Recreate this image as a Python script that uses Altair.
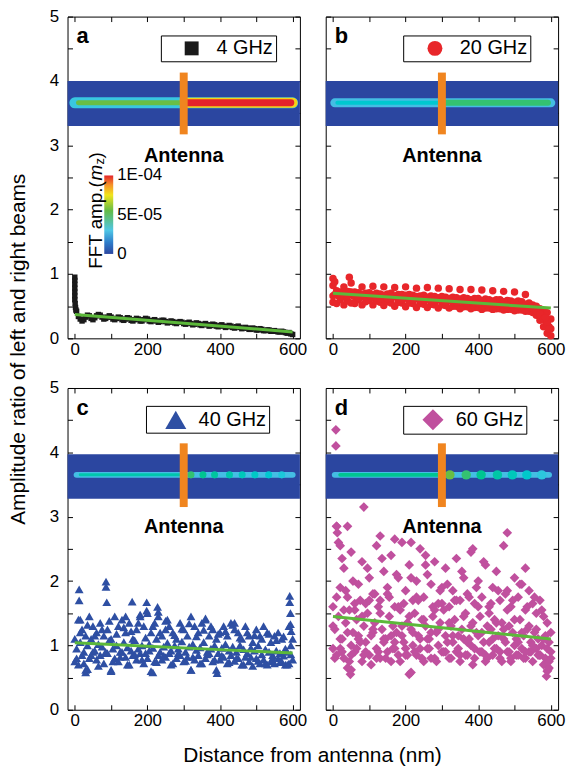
import altair as alt
import pandas as pd

FONT = "Liberation Sans"

# ---------------- sample positions along the stripe (nm) ----------------
X10 = list(range(0, 601, 10))       # 61 positions
X10_MID = list(range(5, 600, 10))   # 60 positions
X5 = list(range(5, 601, 5))         # 120 positions

# ---------------- (a) 4 GHz ----------------
A_X_NEAR = [0, 0, 0, 0, 0, 0, 0, 1, 2, 3]
A_Y_NEAR = [0.95, 0.90, 0.84, 0.78, 0.72, 0.66, 0.60, 0.54, 0.48, 0.44]
A_Y = [
    0.42, 0.34, 0.30, 0.27, 0.29, 0.33, 0.36, 0.35, 0.31, 0.29, 0.32, 0.35, 0.37, 0.36, 0.33, 0.30, 0.31, 0.33, 0.35, 0.33,
    0.30, 0.29, 0.31, 0.33, 0.32, 0.29, 0.28, 0.30, 0.32, 0.31, 0.28, 0.27, 0.29, 0.31, 0.30, 0.27, 0.27, 0.29, 0.31, 0.30,
    0.27, 0.26, 0.28, 0.29, 0.27, 0.25, 0.26, 0.28, 0.28, 0.26, 0.24, 0.25, 0.27, 0.26, 0.24, 0.23, 0.25, 0.26, 0.25, 0.23,
    0.22, 0.24, 0.25, 0.23, 0.21, 0.22, 0.24, 0.23, 0.21, 0.20, 0.22, 0.23, 0.21, 0.19, 0.20, 0.22, 0.21, 0.19, 0.18, 0.20,
    0.21, 0.19, 0.17, 0.18, 0.20, 0.19, 0.17, 0.16, 0.18, 0.19, 0.17, 0.15, 0.16, 0.17, 0.16, 0.14, 0.14, 0.16, 0.15, 0.13,
    0.13, 0.15, 0.14, 0.12, 0.12, 0.13, 0.13, 0.11, 0.11, 0.12, 0.11, 0.10, 0.10, 0.11, 0.10, 0.09, 0.08, 0.09, 0.07, 0.06,
]

# ---------------- (b) 20 GHz ----------------
B_HI = [
    0.82, 0.74, 0.72, 0.80, 0.73, 0.86, 0.72, 0.71, 0.80, 0.70,
    0.71, 0.81, 0.70, 0.69, 0.80, 0.69, 0.70, 0.79, 0.68, 0.68,
    0.80, 0.68, 0.67, 0.78, 0.66, 0.67, 0.79, 0.66, 0.65, 0.78,
    0.65, 0.64, 0.77, 0.64, 0.63, 0.76, 0.63, 0.62, 0.76, 0.62,
    0.62, 0.75, 0.61, 0.60, 0.74, 0.60, 0.60, 0.73, 0.59, 0.58,
    0.72, 0.58, 0.57, 0.68, 0.55, 0.52, 0.50, 0.46, 0.42, 0.40,
    0.30,
]
B_LO = [
    0.56, 0.54, 0.60, 0.52, 0.58, 0.55, 0.54, 0.60, 0.52, 0.57,
    0.59, 0.52, 0.58, 0.56, 0.51, 0.57, 0.55, 0.50, 0.56, 0.55,
    0.49, 0.55, 0.54, 0.48, 0.54, 0.53, 0.48, 0.53, 0.52, 0.47,
    0.52, 0.51, 0.47, 0.50, 0.50, 0.46, 0.49, 0.49, 0.46, 0.48,
    0.48, 0.45, 0.47, 0.47, 0.45, 0.46, 0.46, 0.44, 0.45, 0.45,
    0.43, 0.44, 0.44, 0.42, 0.42, 0.40, 0.36, 0.28, 0.18, 0.08,
    0.04,
]
B_MID = [
    0.68, 0.66, 0.70, 0.64, 0.72, 0.66, 0.63, 0.69, 0.65, 0.67,
    0.63, 0.68, 0.64, 0.62, 0.66, 0.61, 0.64, 0.66, 0.60, 0.62,
    0.64, 0.60, 0.61, 0.63, 0.58, 0.60, 0.62, 0.57, 0.59, 0.60,
    0.56, 0.58, 0.60, 0.55, 0.57, 0.58, 0.54, 0.55, 0.57, 0.53,
    0.54, 0.56, 0.52, 0.53, 0.55, 0.51, 0.52, 0.53, 0.50, 0.51,
    0.52, 0.49, 0.50, 0.50, 0.47, 0.44, 0.40, 0.35, 0.28, 0.18,
]
B_MID2 = [
    0.66, 0.70, 0.64, 0.68, 0.66, 0.72, 0.65, 0.63, 0.68, 0.64,
    0.66, 0.68, 0.63, 0.62, 0.67, 0.62, 0.63, 0.66, 0.61, 0.62,
    0.67, 0.60, 0.60, 0.65, 0.59, 0.60, 0.64, 0.58, 0.59, 0.63,
    0.58, 0.57, 0.62, 0.57, 0.56, 0.61, 0.56, 0.55, 0.60, 0.55,
    0.55, 0.59, 0.54, 0.54, 0.58, 0.53, 0.53, 0.57, 0.52, 0.52,
    0.56, 0.51, 0.51, 0.53, 0.49, 0.47, 0.43, 0.38, 0.30, 0.22,
    0.15,
]
B_X_EXTRA = [0, 45, 5, 590, 595, 585]
B_Y_EXTRA = [0.93, 0.95, 0.88, 0.25, 0.15, 0.32]

# ---------------- (c) 40 GHz ----------------
C_Y1 = [
    1.10, 1.40, 1.25, 1.15, 1.45, 1.30, 1.20, 1.35, 1.15, 1.25,
    1.10, 1.45, 1.30, 1.40, 1.20, 1.35, 1.10, 1.25, 1.45, 1.30,
    1.50, 1.20, 1.35, 1.45, 1.15, 1.25, 1.30, 1.20, 1.10, 1.35,
    1.25, 1.15, 1.45, 1.30, 1.20, 1.35, 1.40, 1.15, 1.25, 1.10,
    1.20, 1.30, 1.15, 1.35, 1.25, 1.20, 1.10, 1.30, 1.15, 1.05,
    1.25, 1.15, 1.30, 1.20, 1.05, 1.15, 1.20, 1.10, 0.95, 1.30,
    1.10,
]
C_Y2 = [
    0.75, 0.70, 0.85, 0.62, 0.80, 0.90, 0.78, 0.85, 0.72, 0.88,
    0.62, 0.80, 0.75, 0.90, 0.82, 0.70, 0.85, 0.78, 0.88, 0.72,
    0.80, 0.60, 0.75, 0.85, 0.78, 0.82, 0.88, 0.72, 0.80, 0.85,
    0.75, 0.82, 0.62, 0.78, 0.85, 0.72, 0.80, 0.88, 0.75, 0.62,
    0.78, 0.82, 0.72, 0.85, 0.76, 0.80, 0.70, 0.82, 0.75, 0.68,
    0.80, 0.72, 0.78, 0.70, 0.75, 0.72, 0.80, 0.75, 0.70, 0.72,
    0.78,
]
C_Y3 = [
    0.95, 1.05, 0.90, 1.00, 1.10, 0.92, 1.02, 0.98, 0.88, 1.08,
    0.95, 1.00, 0.90, 1.05, 0.97, 0.92, 1.08, 0.95, 1.00, 0.88,
    1.02, 0.96, 1.10, 0.90, 0.98, 1.04, 0.92, 1.00, 0.95, 1.06,
    0.90, 0.98, 1.02, 0.93, 0.97, 1.05, 0.90, 0.95, 1.00, 0.88,
    0.96, 1.02, 0.92, 0.98, 0.90, 1.00, 0.94, 0.88, 0.96, 0.92,
    1.00, 0.86, 0.94, 0.90, 0.85, 0.92, 0.88, 0.84, 0.90, 0.86,
]
C_Y4 = [
    0.80, 1.20, 0.72, 1.32, 0.85, 1.15, 0.68, 1.25, 0.90, 1.38,
    0.75, 1.18, 0.82, 1.28, 0.70, 1.22, 0.86, 1.35, 0.78, 1.12,
    0.92, 1.30, 0.74, 1.20, 0.84, 1.40, 0.70, 1.16, 0.88, 1.26,
    0.76, 1.34, 0.82, 1.14, 0.72, 1.24, 0.86, 1.30, 0.78, 1.18,
    0.84, 1.22, 0.74, 1.32, 0.80, 1.12, 0.70, 1.20, 0.82, 1.16,
    0.76, 1.10, 0.72, 1.18, 0.80, 1.08, 0.74, 1.14, 0.70, 1.00,
]
C_X_EXTRA = [12, 12, 15, 86, 86, 88, 158, 198, 198, 228, 230, 592, 592, 594, 594, 596,
             30, 35, 100, 215, 320, 392, 140, 180, 250, 360, 440]
C_Y_EXTRA = [1.87, 1.70, 1.40, 1.99, 1.91, 1.67, 1.68, 1.67, 1.54, 1.60, 1.52, 1.77, 1.67, 1.50, 1.33, 1.22,
             0.58, 0.63, 0.60, 0.58, 0.62, 0.57, 1.45, 1.48, 1.38, 1.42, 1.35]

# ---------------- (d) 60 GHz ----------------
D_Y1 = [
    1.60, 2.85, 1.90, 2.20, 1.75, 2.45, 1.55, 1.95, 2.30, 1.65,
    2.05, 1.80, 2.55, 1.70, 2.15, 1.90, 2.40, 1.60, 2.05, 2.60,
    1.85, 2.25, 1.70, 2.00, 2.50, 1.75, 2.10, 1.95, 2.30, 1.65,
    1.90, 2.20, 1.60, 1.85, 2.35, 1.70, 2.05, 1.80, 2.45, 1.65,
    2.00, 1.75, 2.25, 1.60, 1.90, 2.15, 1.70, 2.55, 1.85, 1.60,
    2.05, 1.75, 1.95, 1.55, 1.85, 1.65, 1.50, 1.70, 1.45, 1.35,
    1.20,
]
D_Y2 = [
    0.95, 0.85, 1.10, 0.80, 0.65, 1.00, 0.90, 1.15, 0.75, 1.05,
    0.85, 1.20, 0.95, 0.80, 1.10, 0.90, 0.75, 1.05, 0.85, 1.15,
    0.95, 0.55, 1.00, 0.85, 1.10, 0.75, 0.95, 1.20, 0.80, 1.00,
    0.90, 1.15, 0.80, 1.05, 0.90, 0.75, 1.10, 0.85, 1.00, 0.80,
    1.15, 0.90, 0.75, 1.05, 0.85, 0.95, 0.80, 1.10, 0.90, 0.75,
    1.00, 0.85, 0.95, 0.80, 0.90, 0.75, 0.95, 0.85, 0.70, 0.60,
    0.90,
]
D_Y3 = [
    1.25, 1.45, 1.10, 1.35, 1.55, 1.20, 1.40, 1.05, 1.30, 1.50,
    1.15, 1.35, 1.60, 1.25, 1.10, 1.45, 1.30, 1.20, 1.55, 1.05,
    1.35, 1.25, 1.50, 1.15, 1.40, 1.30, 1.10, 1.45, 1.20, 1.35,
    1.55, 1.05, 1.30, 1.40, 1.15, 1.25, 1.50, 1.10, 1.35, 1.20,
    1.45, 1.05, 1.30, 1.25, 1.40, 1.15, 1.35, 1.05, 1.30, 1.20,
    1.10, 1.40, 1.15, 1.25, 1.05, 1.20, 1.10, 1.00, 1.15, 1.05,
]
D_Y4 = [
    0.80, 2.60, 0.90, 1.85, 0.75, 2.00, 0.95, 1.70, 0.85, 2.20,
    0.70, 1.80, 0.90, 2.35, 0.80, 1.75, 0.95, 2.10, 0.75, 1.65,
    0.85, 2.05, 0.90, 1.70, 0.80, 2.25, 0.95, 1.60, 0.75, 1.85,
    0.90, 1.95, 0.80, 1.70, 0.95, 2.15, 0.85, 1.75, 0.70, 1.90,
    0.90, 2.30, 0.80, 1.65, 0.95, 1.85, 0.75, 1.80, 0.90, 1.70,
    0.85, 1.95, 0.80, 1.60, 0.90, 1.75, 0.85, 1.55, 0.80, 0.65,
]
D_Y5 = [
    1.30, 1.75, 0.95, 1.55, 1.20, 0.85, 1.65, 1.10, 1.45, 0.90,
    1.70, 1.25, 0.80, 1.50, 1.05, 1.80, 1.15, 0.95, 1.60, 1.30,
    0.85, 1.45, 1.20, 1.75, 0.95, 1.40, 1.10, 0.80, 1.55, 1.25,
    1.65, 0.90, 1.35, 1.15, 1.70, 0.85, 1.45, 1.05, 1.30, 0.95,
    1.60, 1.20, 0.85, 1.50, 1.10, 1.35, 0.90, 1.25, 1.55, 0.80,
    1.40, 1.05, 1.20, 0.90, 1.30, 1.00, 1.25, 0.85, 1.10, 0.95,
    0.80,
]
D_X_EXTRA = [8, 8, 85, 10, 12, 40, 20, 25, 130, 170, 215, 255, 385, 480, 530, 48, 50, 215, 588, 592, 595]
D_Y_EXTRA = [4.35, 4.10, 3.15, 2.85, 2.75, 2.85, 2.55, 2.35, 2.70, 2.65, 2.60, 2.40, 2.50, 2.75, 2.20,
             0.55, 0.62, 0.58, 0.52, 0.62, 0.75]

# ---------------- linear fits (endpoints at 0 and 600 nm) ----------------
FIT_X = [0, 600]
FIT_A = [0.37, 0.10]
FIT_B = [0.70, 0.47]
FIT_C = [1.04, 0.88]
FIT_D = [1.45, 1.10]

# ---------------- beam (FFT amplitude map) ----------------
AMP_MAX = 1e-4
AMP_STOPS = [0, 1.5e-5, 3e-5, 5.5e-5, 7.5e-5, 8.8e-5, 1e-4]
AMP_COLORS = ["#2b46a0", "#2f7fcb", "#4fc6e6", "#62bb47", "#f1e51d", "#f5922a", "#e3232a"]
CB_VALUES = [0, 5e-5, 1e-4]
CB_LABELS = ["0", "5E-05", "1E-04"]

BAND_TOP = [3.30, 4.00]
BAND_BOTTOM = [3.28, 3.97]
BEAM_Y_TOP = 3.66
BEAM_Y_BOTTOM = 3.65
ANT_TOP = [3.17, 4.13]
ANT_BOTTOM = [3.15, 4.14]
ANTENNA_X = 300
ANTENNA_LABEL_Y = 2.84

# segments: (start nm, end nm, amplitude)
SEG_A = [(0, 600, 3.2e-5), (300, 600, 7.8e-5), (10, 300, 5.6e-5), (300, 595, 1.0e-4)]
SEG_B = [(5, 600, 2.8e-5), (12, 300, 3.6e-5), (300, 592, 5.0e-5)]
SEG_C = [(5, 600, 2.8e-5), (15, 300, 4.2e-5)]
SEG_D = [(5, 595, 2.8e-5), (20, 300, 4.6e-5)]
BEADS_C_X = [320, 353, 385, 426, 461, 496, 534, 570]
BEADS_C_AMP = [5.0e-5, 4.6e-5, 4.4e-5, 4.2e-5, 4.0e-5, 3.8e-5, 3.6e-5, 3.4e-5]
BEADS_D_X = [322, 367, 408, 453, 494, 534, 575]
BEADS_D_AMP = [5.6e-5, 5.0e-5, 4.6e-5, 4.3e-5, 4.0e-5, 3.7e-5, 3.3e-5]

X_TICKS = [0, 100, 200, 300, 400, 500, 600]
Y_TICKS = [0, 0.5, 1, 1.5, 2, 2.5, 3, 3.5, 4, 4.5, 5]

GREEN = "#5cb83a"
ORANGE = "#f0851f"

XS = alt.Scale(domain=[-20, 620], nice=False, zero=False)
YS = alt.Scale(domain=[0, 5], nice=False, zero=False)

W, H = 234, 324

# colour-bar placement inside panel (a), pixels from the panel's top-left corner
CB_LEFT, CB_RIGHT, CB_TOP, CB_BOTTOM = 37, 46, 160, 239


def amp_scale():
    return alt.Scale(domain=AMP_STOPS, range=AMP_COLORS)


def axis_common(**kw):
    base = dict(tickSize=5, offset=-5, domain=False, grid=False, title=None,
                tickColor="black", labelColor="black", labelFont=FONT, labelFontSize=17,
                labelOverlap=False)
    base.update(kw)
    return alt.Axis(**base)


def colorbar_layers():
    grad = alt.Gradient(
        gradient="linear", x1=0, x2=0, y1=1, y2=0,
        stops=[alt.GradientStop(offset=s / AMP_MAX, color=c) for s, c in zip(AMP_STOPS, AMP_COLORS)])
    one = pd.DataFrame({"k": [0]})
    out = [alt.Chart(one).mark_rect(fill=grad).encode(
        x=alt.value(CB_LEFT), x2=alt.value(CB_RIGHT), y=alt.value(CB_TOP), y2=alt.value(CB_BOTTOM))]
    for v, lab in zip(CB_VALUES, CB_LABELS):
        py = CB_BOTTOM - (v / AMP_MAX) * (CB_BOTTOM - CB_TOP)
        out.append(alt.Chart(pd.DataFrame({"t": [lab]})).mark_text(
            font=FONT, fontSize=17, color="black", align="left", baseline="middle").encode(
            x=alt.value(CB_RIGHT + 4), y=alt.value(py), text="t:N"))
    pieces = [("FFT amp.(", 29, 254, 19, "normal"), ("m", 29, 165, 19, "italic"),
              ("z", 33, 149, 13, "normal"), (")", 29, 143, 19, "normal")]
    for txt, px, py, fs, fst in pieces:
        out.append(alt.Chart(pd.DataFrame({"t": [txt]})).mark_text(
            font=FONT, fontSize=fs, fontStyle=fst, color="black",
            align="left", baseline="middle", angle=270).encode(
            x=alt.value(px), y=alt.value(py), text="t:N"))
    return out


def make_panel(letter, label, shape, color, size, leg_size, sym_off, lab_off, leg_x, leg_y,
               df, fit_y, band_y, beam_y, ant_y, segs, widths, beads_x, beads_amp, bead_size,
               show_y_labels, colorbar):
    layers = []
    band_df = pd.DataFrame({"x0": [-20], "x1": [620], "y0": [band_y[0]], "y1": [band_y[1]], "amp": [0.0]})
    layers.append(alt.Chart(band_df).mark_rect().encode(
        x=alt.X("x0:Q", scale=XS, axis=None), x2="x1:Q",
        y=alt.Y("y0:Q", scale=YS, axis=None), y2="y1:Q",
        fill=alt.Fill("amp:Q", scale=amp_scale(), legend=None)))

    for (s0, s1, amp), w in zip(segs, widths):
        sdf = pd.DataFrame({"x0": [s0], "x1": [s1], "y": [beam_y], "amp": [amp]})
        layers.append(alt.Chart(sdf).mark_rule(strokeWidth=w, strokeCap="round").encode(
            x=alt.X("x0:Q", scale=XS, axis=None), x2="x1:Q",
            y=alt.Y("y:Q", scale=YS, axis=None),
            stroke=alt.Stroke("amp:Q", scale=amp_scale(), legend=None)))

    if beads_x:
        bdf = pd.DataFrame({"x": beads_x, "y": [beam_y] * len(beads_x), "amp": beads_amp})
        layers.append(alt.Chart(bdf).mark_point(filled=True, shape="circle", size=bead_size, opacity=1,
                                                strokeWidth=0).encode(
            x=alt.X("x:Q", scale=XS, axis=None), y=alt.Y("y:Q", scale=YS, axis=None),
            fill=alt.Fill("amp:Q", scale=amp_scale(), legend=None)))

    adf = pd.DataFrame({"x": [ANTENNA_X], "y0": [ant_y[0]], "y1": [ant_y[1]]})
    layers.append(alt.Chart(adf).mark_rule(strokeWidth=8, color=ORANGE).encode(
        x=alt.X("x:Q", scale=XS, axis=None), y=alt.Y("y0:Q", scale=YS, axis=None), y2="y1:Q"))

    sleg = alt.Legend(orient="none", legendX=leg_x, legendY=leg_y, title=None,
                      strokeColor="black", fillColor="white", padding=3, cornerRadius=0,
                      labelFont=FONT, labelFontSize=20, labelColor="black",
                      symbolSize=leg_size, symbolFillColor=color, symbolStrokeColor=color,
                      symbolStrokeWidth=0, symbolOffset=sym_off, labelOffset=lab_off)
    x_bottom = axis_common(orient="bottom", values=X_TICKS, labelPadding=3,
                           labelExpr="datum.value % 200 == 0 ? format(datum.value, 'd') : ''")
    y_left = axis_common(orient="left", values=Y_TICKS, labelPadding=9, labels=show_y_labels,
                         labelExpr="datum.value % 1 == 0 ? format(datum.value, 'd') : ''")
    layers.append(alt.Chart(df).mark_point(filled=True, opacity=1, size=size, color=color, strokeWidth=0).encode(
        x=alt.X("x:Q", scale=XS, axis=x_bottom),
        y=alt.Y("y:Q", scale=YS, axis=y_left),
        shape=alt.Shape("series:N", scale=alt.Scale(domain=[label], range=[shape]), legend=sleg)))

    x_top = axis_common(orient="top", values=X_TICKS, labels=False)
    y_right = axis_common(orient="right", values=Y_TICKS, labels=False)
    fdf = pd.DataFrame({"x": FIT_X, "y": fit_y})
    layers.append(alt.Chart(fdf).mark_line(color=GREEN, strokeWidth=3).encode(
        x=alt.X("x:Q", scale=XS, axis=x_top), y=alt.Y("y:Q", scale=YS, axis=y_right)))

    tdf = pd.DataFrame({"x": [ANTENNA_X], "y": [ANTENNA_LABEL_Y], "t": ["Antenna"]})
    layers.append(alt.Chart(tdf).mark_text(font=FONT, fontSize=20, fontWeight="bold", color="black").encode(
        x=alt.X("x:Q", scale=XS, axis=None), y=alt.Y("y:Q", scale=YS, axis=None), text="t:N"))

    ldf = pd.DataFrame({"t": [letter]})
    layers.append(alt.Chart(ldf).mark_text(font=FONT, fontSize=22, fontWeight="bold", color="black",
                                           align="left", baseline="alphabetic").encode(
        x=alt.value(9), y=alt.value(27), text="t:N"))

    if colorbar:
        layers.extend(colorbar_layers())

    return alt.layer(*layers).resolve_axis(x="independent", y="independent").properties(width=W, height=H)


df_a = pd.DataFrame({"x": A_X_NEAR + X5, "y": A_Y_NEAR + A_Y})
df_a["series"] = "4 GHz"
df_b = pd.DataFrame({"x": X10 + X10 + X10_MID + X10 + B_X_EXTRA,
                     "y": B_HI + B_LO + B_MID + B_MID2 + B_Y_EXTRA})
df_b["series"] = "20 GHz"
df_c = pd.DataFrame({"x": X10 + X10 + X10_MID + X10_MID + C_X_EXTRA,
                     "y": C_Y1 + C_Y2 + C_Y3 + C_Y4 + C_Y_EXTRA})
df_c["series"] = "40 GHz"
df_d = pd.DataFrame({"x": X10 + X10 + X10_MID + X10_MID + X10 + D_X_EXTRA,
                     "y": D_Y1 + D_Y2 + D_Y3 + D_Y4 + D_Y5 + D_Y_EXTRA})
df_d["series"] = "60 GHz"

pa = make_panel("a", "4 GHz", "square", "#1a1a1a", 30, 196, 18, 15, 94, 19,
                df_a, FIT_A, BAND_TOP, BEAM_Y_TOP, ANT_TOP, SEG_A, [11, 10, 5, 7], [], [], 0, True, True)
pb = make_panel("b", "20 GHz", "circle", "#e8262a", 56, 225, 19, 15, 78, 19,
                df_b, FIT_B, BAND_TOP, BEAM_Y_TOP, ANT_TOP, SEG_B, [9, 4, 6], [], [], 0, False, False)
pc = make_panel("c", "40 GHz", "triangle-up", "#2e4fa3", 80, 450, 16, 12, 79, 18,
                df_c, FIT_C, BAND_BOTTOM, BEAM_Y_BOTTOM, ANT_BOTTOM, SEG_C, [6, 3], BEADS_C_X, BEADS_C_AMP, 50,
                True, False)
pd_ = make_panel("d", "60 GHz", "diamond", "#c0509e", 95, 450, 16, 12, 78, 18,
                 df_d, FIT_D, BAND_BOTTOM, BEAM_Y_BOTTOM, ANT_BOTTOM, SEG_D, [6, 4], BEADS_D_X, BEADS_D_AMP, 90,
                 False, False)

RES = dict(color="independent", shape="independent", fill="independent", stroke="independent",
           x="independent", y="independent")


def resolved(ch):
    return ch.resolve_scale(**RES).resolve_axis(x="independent", y="independent").resolve_legend(
        color="independent", shape="independent", fill="independent", stroke="independent")


row1 = resolved(alt.hconcat(pa, pb, spacing=17))
row2 = resolved(alt.hconcat(pc, pd_, spacing=17))
inner = resolved(alt.vconcat(row1, row2, spacing=20)).properties(
    title=alt.TitleParams(text="Amplitude ratio of left and right beams", orient="left", anchor="middle",
                          font=FONT, fontSize=21, fontWeight="normal", color="black", offset=20, dx=19))
chart = resolved(alt.vconcat(inner)).properties(
    title=alt.TitleParams(text="Distance from antenna (nm)", orient="bottom", anchor="middle",
                          font=FONT, fontSize=21, fontWeight="normal", color="black", offset=16, dx=26),
    padding={"left": 8, "top": 4, "right": 5, "bottom": 5},
).configure(font=FONT).configure_view(stroke="black", strokeWidth=1)

chart.save("out.html", embed_options={"renderer": "svg", "actions": False})
